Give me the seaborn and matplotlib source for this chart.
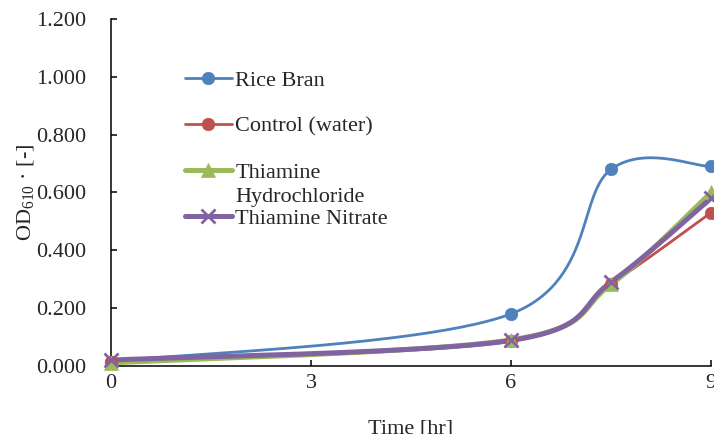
import numpy as np
import pandas as pd
import matplotlib
matplotlib.use('Agg')
import matplotlib.pyplot as plt
import seaborn as sns
from matplotlib.lines import Line2D
from matplotlib.ticker import FormatStrFormatter

# ---------- data ----------
time_hr = [0, 6, 7.5, 9]
rice_bran = [0.015, 0.180, 0.680, 0.690]
control = [0.015, 0.085, 0.285, 0.530]
thiamine_hcl = [0.010, 0.090, 0.282, 0.600]
thiamine_nitrate = [0.020, 0.088, 0.290, 0.580]

series_names = ['Rice Bran', 'Control (water)', 'Thiamine', 'Thiamine Nitrate']
series_vals = [rice_bran, control, thiamine_hcl, thiamine_nitrate]
colors = ['#4F81BD', '#C0504D', '#9BBB59', '#8064A2']
markers = ['o', 'o', '^', 'x']
line_w = [2.0, 2.0, 3.6, 3.6]
mark_sz = [9, 9, 10, 10]


def excel_smooth(x, y, n=60):
    # bezier segments w/ catmull-rom control points (excel "smoothed line")
    p = np.column_stack([x, y]).astype(float)
    t = np.linspace(0, 1, n)[1:, None]
    out = [p[:1]]
    for i in range(len(p) - 1):
        p0 = p[max(i - 1, 0)]
        p1, p2 = p[i], p[i + 1]
        p3 = p[min(i + 2, len(p) - 1)]
        c1 = p1 + (p2 - p0) / 6
        c2 = p2 - (p3 - p1) / 6
        seg = ((1 - t) ** 3 * p1 + 3 * (1 - t) ** 2 * t * c1
               + 3 * (1 - t) * t ** 2 * c2 + t ** 3 * p2)
        out.append(seg)
    return np.vstack(out)


sns.set_style('ticks')
plt.rcParams['font.family'] = ['Liberation Serif', 'DejaVu Serif']
plt.rcParams['mathtext.fontset'] = 'custom'
plt.rcParams['mathtext.rm'] = 'Liberation Serif'

fig = plt.figure(figsize=(7.14, 4.34), dpi=100)
ax = fig.add_axes([0.1555, 0.157, 0.8403, 0.799])

handles = []
for name, vals, c, m, lw, ms in zip(series_names, series_vals, colors, markers, line_w, mark_sz):
    xy = excel_smooth(time_hr, vals)
    sm = pd.DataFrame({'x': xy[:, 0], 'y': xy[:, 1]})
    sns.lineplot(data=sm, x='x', y='y', sort=False, color=c, linewidth=lw,
                 ax=ax, clip_on=False, zorder=3)
    ax.plot(time_hr, vals, linestyle='none', marker=m, color=c, markersize=ms,
            markeredgewidth=2 if m == 'x' else 0.5, clip_on=False, zorder=4)
    handles.append(Line2D([], [], color=c, linewidth=lw, marker=m, markersize=ms,
                          markeredgewidth=2 if m == 'x' else 0.5, label=name))

ax.set_xlim(0, 9)
ax.set_ylim(0, 1.2)
ax.set_xticks([0, 3, 6, 9])
ax.set_yticks(np.arange(0, 1.21, 0.2))
ax.yaxis.set_major_formatter(FormatStrFormatter('%.3f'))
ax.tick_params(axis='both', direction='in', length=4.5, width=1.1, labelsize=16, color='black')
ax.tick_params(axis='y', pad=18)
ax.tick_params(axis='x', pad=6)
for s in ['left', 'bottom']:
    ax.spines[s].set_linewidth(1.1)
    ax.spines[s].set_color('black')
sns.despine(ax=ax)

ax.set_xlabel('Time [hr]', fontsize=16, labelpad=19)
ax.set_ylabel('OD$_{610}$ · [-]', fontsize=16, labelpad=-1)

leg = ax.legend(handles=handles, loc='upper left', bbox_to_anchor=(0.105, 0.885),
                frameon=False, fontsize=16, handlelength=2.1, handletextpad=0.15,
                labelspacing=1.15, borderpad=0)
# second line of the 3rd label spills over, like in the excel chart
ax.annotate('Hydrochloride', xy=(0, 0), xycoords=leg.get_texts()[2],
            xytext=(0, -4), textcoords='offset points', va='top', fontsize=16,
            zorder=10)

fig.savefig('out.png', dpi=100)
